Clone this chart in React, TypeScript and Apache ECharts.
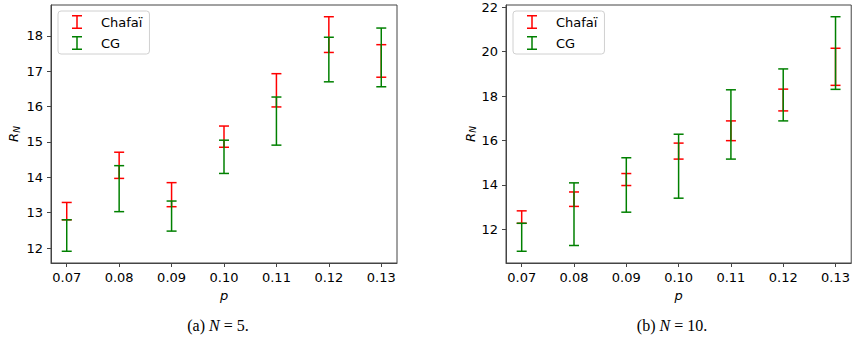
import React, { useEffect, useRef } from "react";
import * as echarts from "echarts";

const pValues = [0.07, 0.08, 0.09, 0.1, 0.11, 0.12, 0.13];

// N = 5
const chafai5Low = [12.8, 13.97, 13.17, 14.85, 15.99, 17.53, 16.83];
const chafai5High = [13.29, 14.71, 13.85, 15.45, 16.93, 18.54, 17.75];
const cg5Low = [11.91, 13.03, 12.48, 14.11, 14.91, 16.7, 16.56];
const cg5High = [12.8, 14.33, 13.33, 15.05, 16.27, 17.96, 18.22];

// N = 10
const chafai10Low = [12.27, 13.03, 13.97, 15.16, 15.99, 17.33, 18.48];
const chafai10High = [12.83, 13.68, 14.51, 15.88, 16.88, 18.31, 20.15];
const cg10Low = [11.01, 11.27, 12.77, 13.4, 15.16, 16.88, 18.3];
const cg10High = [12.27, 14.09, 15.22, 16.28, 18.28, 19.22, 21.57];

const xTicks = [0.07, 0.08, 0.09, 0.1, 0.11, 0.12, 0.13];
const yTicks5 = [12, 13, 14, 15, 16, 17, 18];
const yTicks10 = [12, 14, 16, 18, 20, 22];

const seriesNames = ["Chafaï", "CG"];
const captions = ["(a) ", "(b) "];
const captionN = ["5.", "10."];

const RED = "#ff0000";
const GREEN = "#008000";
const AXIS = "#444444";
const FONT = "DejaVu Sans";

function range(lists: number[][]) {
  const all = lists.flat();
  const lo = Math.min(...all);
  const hi = Math.max(...all);
  const pad = (hi - lo) * 0.05;
  return [lo - pad, hi + pad];
}

function makeRender(color: string) {
  return (params: any, api: any) => {
    const x = api.value(0);
    const lo = api.value(1);
    const hi = api.value(2);
    const a = api.coord([x, lo]);
    const b = api.coord([x, hi]);
    const half = 5;
    const st = { stroke: color, lineWidth: 1.5 };
    return {
      type: "group",
      children: [
        { type: "line", shape: { x1: a[0], y1: a[1], x2: b[0], y2: b[1] }, style: st },
        { type: "line", shape: { x1: a[0] - half, y1: a[1], x2: a[0] + half, y2: a[1] }, style: st },
        { type: "line", shape: { x1: b[0] - half, y1: b[1], x2: b[0] + half, y2: b[1] }, style: st },
      ],
    };
  };
}

function zip(lo: number[], hi: number[]) {
  return pValues.map((p, i) => [p, lo[i], hi[i]]);
}

export default function App() {
  const ref = useRef<HTMLDivElement>(null);
  useEffect(() => {
    if (!ref.current) return;
    const chart = echarts.init(ref.current, null, { renderer: "svg" });
    const r5 = range([chafai5Low, chafai5High, cg5Low, cg5High]);
    const r10 = range([chafai10Low, chafai10High, cg10Low, cg10High]);
    const grids = [
      { left: 51, top: 5, width: 346, height: 258 },
      { left: 506, top: 5, width: 346, height: 258 },
    ];
    const xAxisCommon = (gi: number) => ({
      type: "value",
      gridIndex: gi,
      min: 0.067,
      max: 0.133,
      name: "p",
      nameLocation: "middle",
      nameGap: 19,
      nameTextStyle: { fontFamily: FONT, fontSize: 13, fontStyle: "italic", color: "#000", verticalAlign: "top" },
      axisLine: { show: true, lineStyle: { color: AXIS, width: 1 } },
      axisTick: { show: true, inside: false, length: 4, lineStyle: { color: AXIS }, customValues: xTicks },
      axisLabel: {
        customValues: xTicks,
        margin: 8,
        fontFamily: FONT,
        fontSize: 13,
        color: "#000",
        formatter: (v: number) => v.toFixed(2),
      },
      splitLine: { show: false },
    });
    const yAxisCommon = (gi: number, r: number[], ticks: number[], gap: number) => ({
      type: "value",
      gridIndex: gi,
      min: r[0],
      max: r[1],
      name: "{r|R}{s|N}",
      nameLocation: "middle",
      nameGap: gap,
      nameRotate: 90,
      nameTextStyle: {
        rich: {
          r: { fontFamily: FONT, fontSize: 13, fontStyle: "italic", color: "#000" },
          s: { fontFamily: FONT, fontSize: 9, fontStyle: "italic", color: "#000", padding: [6, 0, 0, 0] },
        },
      },
      axisLine: { show: true, lineStyle: { color: AXIS, width: 1 } },
      axisTick: { show: true, inside: false, length: 4, lineStyle: { color: AXIS }, customValues: ticks },
      axisLabel: {
        customValues: ticks,
        margin: 8,
        fontFamily: FONT,
        fontSize: 13,
        color: "#000",
        formatter: (v: number) => String(v),
      },
      splitLine: { show: false },
    });
    const legendCommon = (left: number) => ({
      left,
      top: 11,
      orient: "vertical",
      data: seriesNames,
      icon: "path://M0,0H10V1.5H5.75V12.5H10V14H0V12.5H4.25V1.5H0Z",
      itemWidth: 10,
      itemHeight: 14,
      itemGap: 7,
      padding: [4, 7, 4, 14],
      borderColor: "#d0d0d0",
      borderWidth: 1,
      borderRadius: 3,
      backgroundColor: "rgba(255,255,255,0.8)",
      selectedMode: false,
      textStyle: { fontFamily: FONT, fontSize: 13, color: "#000", padding: [0, 0, 0, 14] },
    });
    const mkSeries = (name: string, color: string, gi: number, data: number[][]) => ({
      type: "custom",
      name,
      xAxisIndex: gi,
      yAxisIndex: gi,
      itemStyle: { color },
      encode: { x: 0, y: [1, 2] },
      renderItem: makeRender(color),
      data,
      z: name === "CG" ? 3 : 2,
    });
    const captionText = (cx: number, i: number) => ({
      type: "text",
      x: cx,
      y: 325,
      style: {
        text: `${captions[i]}{n|N} = ${captionN[i]}`,
        fontFamily: "Liberation Serif",
        fontSize: 16,
        fill: "#000",
        align: "center",
        verticalAlign: "middle",
        rich: {
          n: { fontFamily: "Liberation Serif", fontSize: 16, fontStyle: "italic", fill: "#000" },
        },
      },
    });
    chart.setOption({
      animation: false,
      backgroundColor: "#ffffff",
      grid: grids.map((g) => ({ ...g, show: true, borderColor: AXIS, borderWidth: 1, backgroundColor: "transparent" })),
      xAxis: [xAxisCommon(0), xAxisCommon(1)],
      yAxis: [yAxisCommon(0, r5, yTicks5, 30), yAxisCommon(1, r10, yTicks10, 28)],
      legend: [legendCommon(58), legendCommon(513)],
      series: [
        mkSeries("Chafaï", RED, 0, zip(chafai5Low, chafai5High)),
        mkSeries("CG", GREEN, 0, zip(cg5Low, cg5High)),
        mkSeries("Chafaï", RED, 1, zip(chafai10Low, chafai10High)),
        mkSeries("CG", GREEN, 1, zip(cg10Low, cg10High)),
      ],
      graphic: [captionText(218, 0), captionText(672, 1)],
    });
    return () => chart.dispose();
  }, []);
  return <div ref={ref} style={{ position: "absolute", left: 0, top: 0, width: 853, height: 338 }} />;
}
